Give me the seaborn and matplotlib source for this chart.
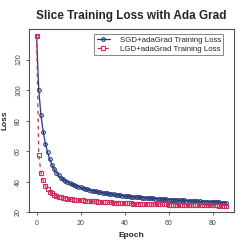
import numpy as np
import pandas as pd
import matplotlib
matplotlib.use("Agg")
import matplotlib.pyplot as plt
import seaborn as sns

# Loss per epoch
epochs = list(range(87))
sgd_loss = [
    135.6, 100.0, 83.4, 72.8, 65.0, 59.2, 54.6, 51.0, 48.2, 46.0,
    44.2, 42.7, 41.5, 40.6, 39.8, 39.1, 38.4, 37.8, 37.3, 36.8,
    36.3, 35.8, 35.4, 35.0, 34.6, 34.2, 33.9, 33.6, 33.3, 33.0,
    32.8, 32.5, 32.3, 32.1, 31.9, 31.7, 31.5, 31.3, 31.1, 30.9,
    30.7, 30.6, 30.4, 30.3, 30.1, 30.0, 29.9, 29.8, 29.6, 29.5,
    29.4, 29.3, 29.1, 29.0, 28.9, 28.8, 28.7, 28.6, 28.5, 28.4,
    28.3, 28.2, 28.1, 28.0, 27.9, 27.8, 27.8, 27.7, 27.6, 27.5,
    27.4, 27.3, 27.3, 27.2, 27.1, 27.0, 27.0, 26.9, 26.8, 26.7,
    26.6, 26.6, 26.5, 26.4, 26.3, 26.2, 26.1,
]
lgd_loss = [
    135.6, 57.5, 46.0, 40.8, 37.2, 35.0, 33.4, 32.3, 31.3, 30.6,
    30.1, 29.7, 29.4, 29.1, 28.9, 28.7, 28.5, 28.3, 28.1, 28.0,
    27.8, 27.7, 27.6, 27.5, 27.4, 27.3, 27.2, 27.1, 27.0, 26.9,
    26.8, 26.7, 26.6, 26.5, 26.4, 26.3, 26.3, 26.2, 26.1, 26.0,
    25.9, 25.9, 25.8, 25.8, 25.7, 25.7, 25.6, 25.6, 25.5, 25.5,
    25.4, 25.4, 25.3, 25.3, 25.2, 25.2, 25.2, 25.1, 25.1, 25.1,
    25.0, 25.0, 25.0, 24.9, 24.9, 24.9, 24.9, 24.8, 24.8, 24.8,
    24.7, 24.7, 24.7, 24.7, 24.6, 24.6, 24.6, 24.6, 24.5, 24.5,
    24.5, 24.5, 24.5, 24.4, 24.4, 24.4, 24.4,
]
labels = ["SGD+adaGrad Training Loss", "LGD+adaGrad Training Loss"]
x_ticks = [0, 20, 40, 60, 80]
y_ticks = [20, 40, 60, 80, 100, 120]

df = pd.DataFrame({"epoch": epochs, "sgd": sgd_loss, "lgd": lgd_loss})

sns.set_style("white")
plt.rcParams["font.family"] = ["Liberation Sans", "DejaVu Sans"]

blue = "#243a7c"
red = "#d02e5c"
axis_col = "#505050"

fig = plt.figure(figsize=(2.49, 2.49), dpi=100)
ax = fig.add_axes([0.1165, 0.1474, 0.8213, 0.7361])

sns.lineplot(data=df, x="epoch", y="sgd", ax=ax, color=blue, linewidth=0.9,
             marker="o", markersize=2.6, markerfacecolor="none",
             markeredgecolor=blue, markeredgewidth=0.8, label=labels[0])
sns.lineplot(data=df, x="epoch", y="lgd", ax=ax, color=red, linewidth=0.9,
             linestyle=(0, (3, 3)), marker="s", markersize=2.3,
             markerfacecolor="none", markeredgecolor=red,
             markeredgewidth=0.8, label=labels[1])

ax.margins(x=0.04, y=0.04)
ax.set_xticks(x_ticks)
ax.set_yticks(y_ticks)
ax.tick_params(axis="both", direction="out", length=2.5, width=0.6,
               color=axis_col, labelcolor="#444444", labelsize=5, pad=3,
               bottom=True, left=True)
ax.tick_params(axis="y", labelrotation=90, pad=2.5)
for t in ax.get_yticklabels():
    t.set_va("center")

for sp in ax.spines.values():
    sp.set_color(axis_col)
    sp.set_linewidth(0.8)

ax.set_title("Slice Training Loss with Ada Grad", fontsize=8.5,
             fontweight="bold", pad=7)
ax.set_xlabel("Epoch", fontsize=6, fontweight="bold")
ax.set_ylabel("Loss", fontsize=6, fontweight="bold")
ax.xaxis.set_label_coords(0.5, -0.11)
ax.yaxis.set_label_coords(-0.1, 0.5)

leg = ax.legend(loc="upper right", bbox_to_anchor=(0.95, 0.973),
                borderaxespad=0, fontsize=5.7, frameon=True, fancybox=False,
                handlelength=1.7, handletextpad=1.2, labelspacing=0.2,
                borderpad=0.3)
leg.get_frame().set_edgecolor(axis_col)
leg.get_frame().set_linewidth(0.6)

fig.savefig("out.png", dpi=100)
